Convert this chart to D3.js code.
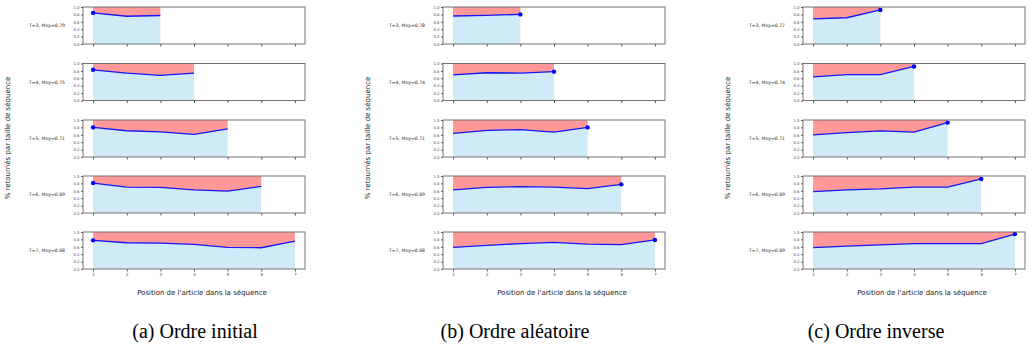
<!DOCTYPE html>
<html>
<head>
<meta charset="utf-8">
<script src="https://cdn.jsdelivr.net/npm/d3@7"></script>
<style>
  body { margin: 0; background: #fff; }
  svg { display: block; }
</style>
</head>
<body>
<div id="chart"></div>
<script>
const sizes = [3, 4, 5, 6, 7];
const positions = [1, 2, 3, 4, 5, 6, 7];
const yTicks = [0.0, 0.2, 0.4, 0.6, 0.8, 1.0];

const initialValues = [
  [0.84, 0.75, 0.77],
  [0.83, 0.74, 0.68, 0.74],
  [0.80, 0.71, 0.68, 0.61, 0.76],
  [0.81, 0.70, 0.69, 0.625, 0.59, 0.72],
  [0.775, 0.71, 0.70, 0.665, 0.585, 0.575, 0.755]
];
const randomValues = [
  [0.757, 0.775, 0.80],
  [0.69, 0.75, 0.74, 0.78],
  [0.64, 0.72, 0.74, 0.67, 0.80],
  [0.625, 0.69, 0.715, 0.70, 0.66, 0.775],
  [0.585, 0.64, 0.685, 0.72, 0.675, 0.66, 0.785]
];
const inverseValues = [
  [0.68, 0.71, 0.92],
  [0.64, 0.70, 0.70, 0.92],
  [0.60, 0.66, 0.705, 0.67, 0.93],
  [0.58, 0.625, 0.65, 0.70, 0.70, 0.92],
  [0.575, 0.62, 0.65, 0.685, 0.685, 0.685, 0.945]
];
const initialMeans = ['0.79', '0.75', '0.71', '0.69', '0.68'];
const randomMeans = ['0.78', '0.74', '0.71', '0.69', '0.68'];
const inverseMeans = ['0.77', '0.74', '0.71', '0.69', '0.69'];
const captions = ['(a) Ordre initial', '(b) Ordre aléatoire', '(c) Ordre inverse'];

const panels = [
  { values: initialValues, means: initialMeans, marker: 'first' },
  { values: randomValues, means: randomMeans, marker: 'last' },
  { values: inverseValues, means: inverseMeans, marker: 'last' }
];

const W = 1030, H = 352;
const panelStep = 360;
const axLeft = 83, axWidth = 222;
const rowTops = [7, 63.5, 120, 176, 232];
const axHeight = 37;

const svg = d3.select('#chart').append('svg')
  .attr('width', W)
  .attr('height', H);

const x = d3.scaleLinear().domain([0.7, 7.3]).range([0, axWidth]);
const y = d3.scaleLinear().domain([0, 1]).range([axHeight, 0]);

panels.forEach((p, pi) => {
  const panel = svg.append('g').attr('transform', `translate(${pi * panelStep},0)`);

  sizes.forEach((t, ri) => {
    const vals = p.values[ri];
    const pts = vals.map((v, i) => ({ pos: positions[i], v }));
    const g = panel.append('g').attr('transform', `translate(${axLeft},${rowTops[ri]})`);

    // part above the curve (red) and below it (light blue)
    g.append('path')
      .datum(pts)
      .attr('fill', '#ff9999')
      .attr('d', d3.area().x(d => x(d.pos)).y0(y(1)).y1(d => y(d.v)));

    g.append('path')
      .datum(pts)
      .attr('fill', '#cfebf7')
      .attr('d', d3.area().x(d => x(d.pos)).y0(y(0)).y1(d => y(d.v)));

    g.append('path')
      .datum(pts)
      .attr('fill', 'none')
      .attr('stroke', '#1515f5')
      .attr('stroke-width', 1.3)
      .attr('d', d3.line().x(d => x(d.pos)).y(d => y(d.v)));

    const m = p.marker === 'first' ? pts[0] : pts[pts.length - 1];
    g.append('circle')
      .attr('cx', x(m.pos))
      .attr('cy', y(m.v))
      .attr('r', 2.2)
      .attr('fill', '#0000ff');

    const yAxis = g.append('g')
      .call(d3.axisLeft(y).tickValues(yTicks).tickFormat(d3.format('.1f')).tickSize(2).tickPadding(1.5));
    yAxis.select('.domain').remove();
    yAxis.selectAll('line').attr('stroke', '#555');
    yAxis.selectAll('text').attr('font-size', 3.8).attr('fill', '#444').attr('font-family', 'DejaVu Sans');

    const xAxis = g.append('g')
      .attr('transform', `translate(0,${axHeight})`)
      .call(d3.axisBottom(x).tickValues(positions).tickSize(2.5).tickPadding(2)
        .tickFormat(ri === sizes.length - 1 ? d3.format('d') : ''));
    xAxis.select('.domain').remove();
    xAxis.selectAll('line').attr('stroke', '#555');
    xAxis.selectAll('text').attr('font-size', 4).attr('fill', '#444').attr('font-family', 'DejaVu Sans');

    g.append('rect')
      .attr('width', axWidth)
      .attr('height', axHeight)
      .attr('fill', 'none')
      .attr('stroke', '#666')
      .attr('stroke-width', 0.9);

    g.append('text')
      .attr('x', -18)
      .attr('y', axHeight / 2)
      .attr('dy', '0.35em')
      .attr('text-anchor', 'end')
      .attr('font-family', 'DejaVu Sans')
      .attr('font-size', 4.6)
      .attr('fill', '#222')
      .text(`T=${t}, Moy=${p.means[ri]}`);
  });

  panel.append('text')
    .attr('transform', 'translate(10,138) rotate(-90)')
    .attr('text-anchor', 'middle')
    .attr('font-family', 'DejaVu Sans')
    .attr('font-size', 7)
    .attr('fill', '#222')
    .text('% retournés par taille de séquence');

  panel.append('text')
    .attr('x', 202)
    .attr('y', 295)
    .attr('text-anchor', 'middle')
    .attr('font-family', 'DejaVu Sans')
    .attr('font-size', 7)
    .attr('fill', '#222')
    .text("Position de l'article dans la séquence");
});

const captionX = [195, 515, 876];
captions.forEach((c, i) => {
  svg.append('text')
    .attr('x', captionX[i])
    .attr('y', 338)
    .attr('text-anchor', 'middle')
    .attr('font-family', 'Liberation Serif')
    .attr('font-size', 20)
    .attr('fill', '#000')
    .text(c);
});
</script>
</body>
</html>
